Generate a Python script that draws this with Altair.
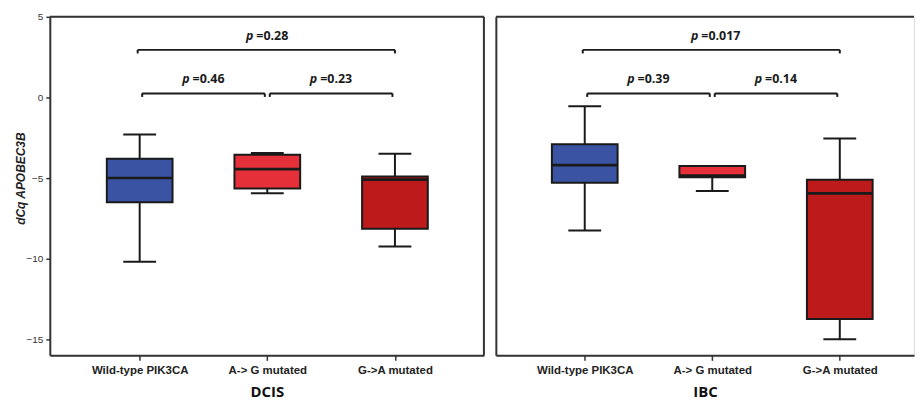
import json
import altair as alt
import pandas as pd

# ---------------- data ----------------
categories = ["Wild-type PIK3CA", "A-> G mutated", "G->A mutated"]
colors = ["#3A53A3", "#E5303A", "#BC1A1B"]

dcis_lower = [-10.2, -5.95, -9.25]
dcis_q1 = [-6.5, -5.65, -8.15]
dcis_median = [-5.0, -4.45, -5.1]
dcis_q3 = [-3.8, -3.55, -4.9]
dcis_upper = [-2.3, -3.45, -3.5]

ibc_lower = [-8.25, -5.8, -15.0]
ibc_q1 = [-5.3, -4.95, -13.75]
ibc_median = [-4.2, -4.85, -5.95]
ibc_q3 = [-2.9, -4.25, -5.1]
ibc_upper = [-0.55, -4.25, -2.55]

bracket_from = [0, 1, 0]
bracket_to = [1, 2, 2]
bracket_level = ["low", "low", "high"]
bracket_y = [0.25, 0.25, 2.95]
label_y = [0.9, 0.9, 3.55]
dcis_p = ["=0.46", "=0.23", "=0.28"]
ibc_p = ["=0.39", "=0.14", "=0.017"]

Y_DOMAIN = [-16, 5]
PLOT_H = 340
INK = "#1a1a1a"
FRAME = "#333333"

label_expr = json.dumps(categories) + "[datum.value]"


def panel(title, lower, q1, med, q3, upper, pvals, width, xmin, xmax, first):
    box = pd.DataFrame({
        "idx": list(range(len(categories))),
        "cat": categories,
        "lower": lower, "q1": q1, "median": med, "q3": q3, "upper": upper,
    })
    br = pd.DataFrame({
        "from": bracket_from, "to": bracket_to, "level": bracket_level,
        "y": bracket_y, "ly": label_y, "p": pvals,
    })

    xaxis = alt.Axis(values=[0, 1, 2], labelExpr=label_expr, grid=False,
                     title=title, titleFont="Open Sans", titleFontSize=15,
                     titleFontWeight="bold", titleColor="#111", titlePadding=9,
                     labelFont="Liberation Sans", labelFontSize=11.5,
                     labelFontWeight="bold", labelColor="#222", labelPadding=4,
                     tickSize=5, tickColor=FRAME, tickWidth=1.5,
                     domainColor=FRAME, domainWidth=2)
    xs = alt.Scale(domain=[xmin, xmax], nice=False, zero=False)

    if first:
        yaxis = alt.Axis(values=[-15, -10, -5, 0, 5], grid=False,
                         title="dCq APOBEC3B", titleFont="Liberation Sans",
                         titleFontSize=12, titleFontStyle="italic",
                         titleFontWeight="bold", titleColor="#222", titlePadding=-2,
                         titleY=162,
                         labelFont="Liberation Sans", labelFontSize=10,
                         labelColor="#333", labelPadding=3,
                         tickSize=4, tickColor=FRAME, tickWidth=1.5,
                         domainColor=FRAME, domainWidth=2)
    else:
        yaxis = alt.Axis(values=[-15, -10, -5, 0, 5], grid=False, labels=False,
                         ticks=False, title="", titlePadding=0,
                         domainColor=FRAME, domainWidth=2)
    ys = alt.Scale(domain=Y_DOMAIN, nice=False, zero=False)

    def X(f="idx"):
        return alt.X(f + ":Q", scale=xs, axis=xaxis)

    def Y(f):
        return alt.Y(f + ":Q", scale=ys, axis=yaxis)

    b = alt.Chart(box)
    whisk_lo = b.mark_rule(color=INK, strokeWidth=2).encode(x=X(), y=Y("lower"), y2="q1:Q")
    whisk_hi = b.mark_rule(color=INK, strokeWidth=2).encode(x=X(), y=Y("q3"), y2="upper:Q")
    cap_lo = b.mark_tick(orient="horizontal", size=33, thickness=2, color=INK, opacity=1).encode(x=X(), y=Y("lower"))
    cap_hi = b.mark_tick(orient="horizontal", size=33, thickness=2, color=INK, opacity=1).encode(x=X(), y=Y("upper"))
    bars = b.mark_bar(size=66, stroke=INK, strokeWidth=2, opacity=1).encode(
        x=X(), y=Y("q1"), y2="q3:Q",
        color=alt.Color("cat:N", scale=alt.Scale(domain=categories, range=colors), legend=None),
    )
    medians = b.mark_tick(orient="horizontal", size=66, thickness=2.6, color=INK, opacity=1).encode(x=X(), y=Y("median"))

    layers = [whisk_lo, whisk_hi, bars, cap_lo, cap_hi, medians]

    c = alt.Chart(br).transform_calculate(
        yend="datum.y - 0.22", mid="(datum.from + datum.to) / 2")
    for lev, o1, o2 in [("high", -2, 0), ("low", 2.5, -2.5)]:
        cc = c.transform_filter(alt.datum.level == lev)
        layers.append(cc.mark_rule(color=INK, strokeWidth=2, xOffset=o1, x2Offset=o2).encode(
            x=X("from"), x2="to:Q", y=Y("y")))
        layers.append(cc.mark_rule(color=INK, strokeWidth=2, xOffset=o1).encode(
            x=X("from"), y=Y("y"), y2="yend:Q"))
        layers.append(cc.mark_rule(color=INK, strokeWidth=2, xOffset=o2).encode(
            x=X("to"), y=Y("y"), y2="yend:Q"))

    layers.append(c.mark_text(text="p", font="Open Sans", fontSize=12.5, fontWeight="bold",
                              fontStyle="italic", align="right", baseline="alphabetic",
                              dx=-14, color=INK).encode(x=X("mid"), y=Y("ly")))
    layers.append(c.mark_text(font="Open Sans", fontSize=12.5, fontWeight="bold",
                              align="left", baseline="alphabetic", dx=-11,
                              color=INK).encode(x=X("mid"), y=Y("ly"), text="p:N"))

    one = alt.Chart(pd.DataFrame({"a": [0]}))
    layers.append(one.mark_rule(color=FRAME, strokeWidth=2).encode(
        x=alt.value(0), x2=alt.value(width), y=alt.value(0)))
    if first:
        layers.append(one.mark_rule(color=FRAME, strokeWidth=2).encode(
            x=alt.value(width), y=alt.value(0), y2=alt.value(PLOT_H)))

    return alt.layer(*layers).properties(width=width, height=PLOT_H)


left = panel("DCIS", dcis_lower, dcis_q1, dcis_median, dcis_q3, dcis_upper, dcis_p,
             436, -0.665, 2.658, True)
right = panel("IBC", ibc_lower, ibc_q1, ibc_median, ibc_q3, ibc_upper, ibc_p,
              420, -0.658, 2.543, False)

chart = alt.hconcat(left, right, spacing=8).properties(
    padding={"left": 6, "top": 2, "right": 0, "bottom": 0}
).configure_view(stroke="transparent").configure(background="white")

chart.save("out.html", embed_options={"renderer": "svg", "actions": False})
